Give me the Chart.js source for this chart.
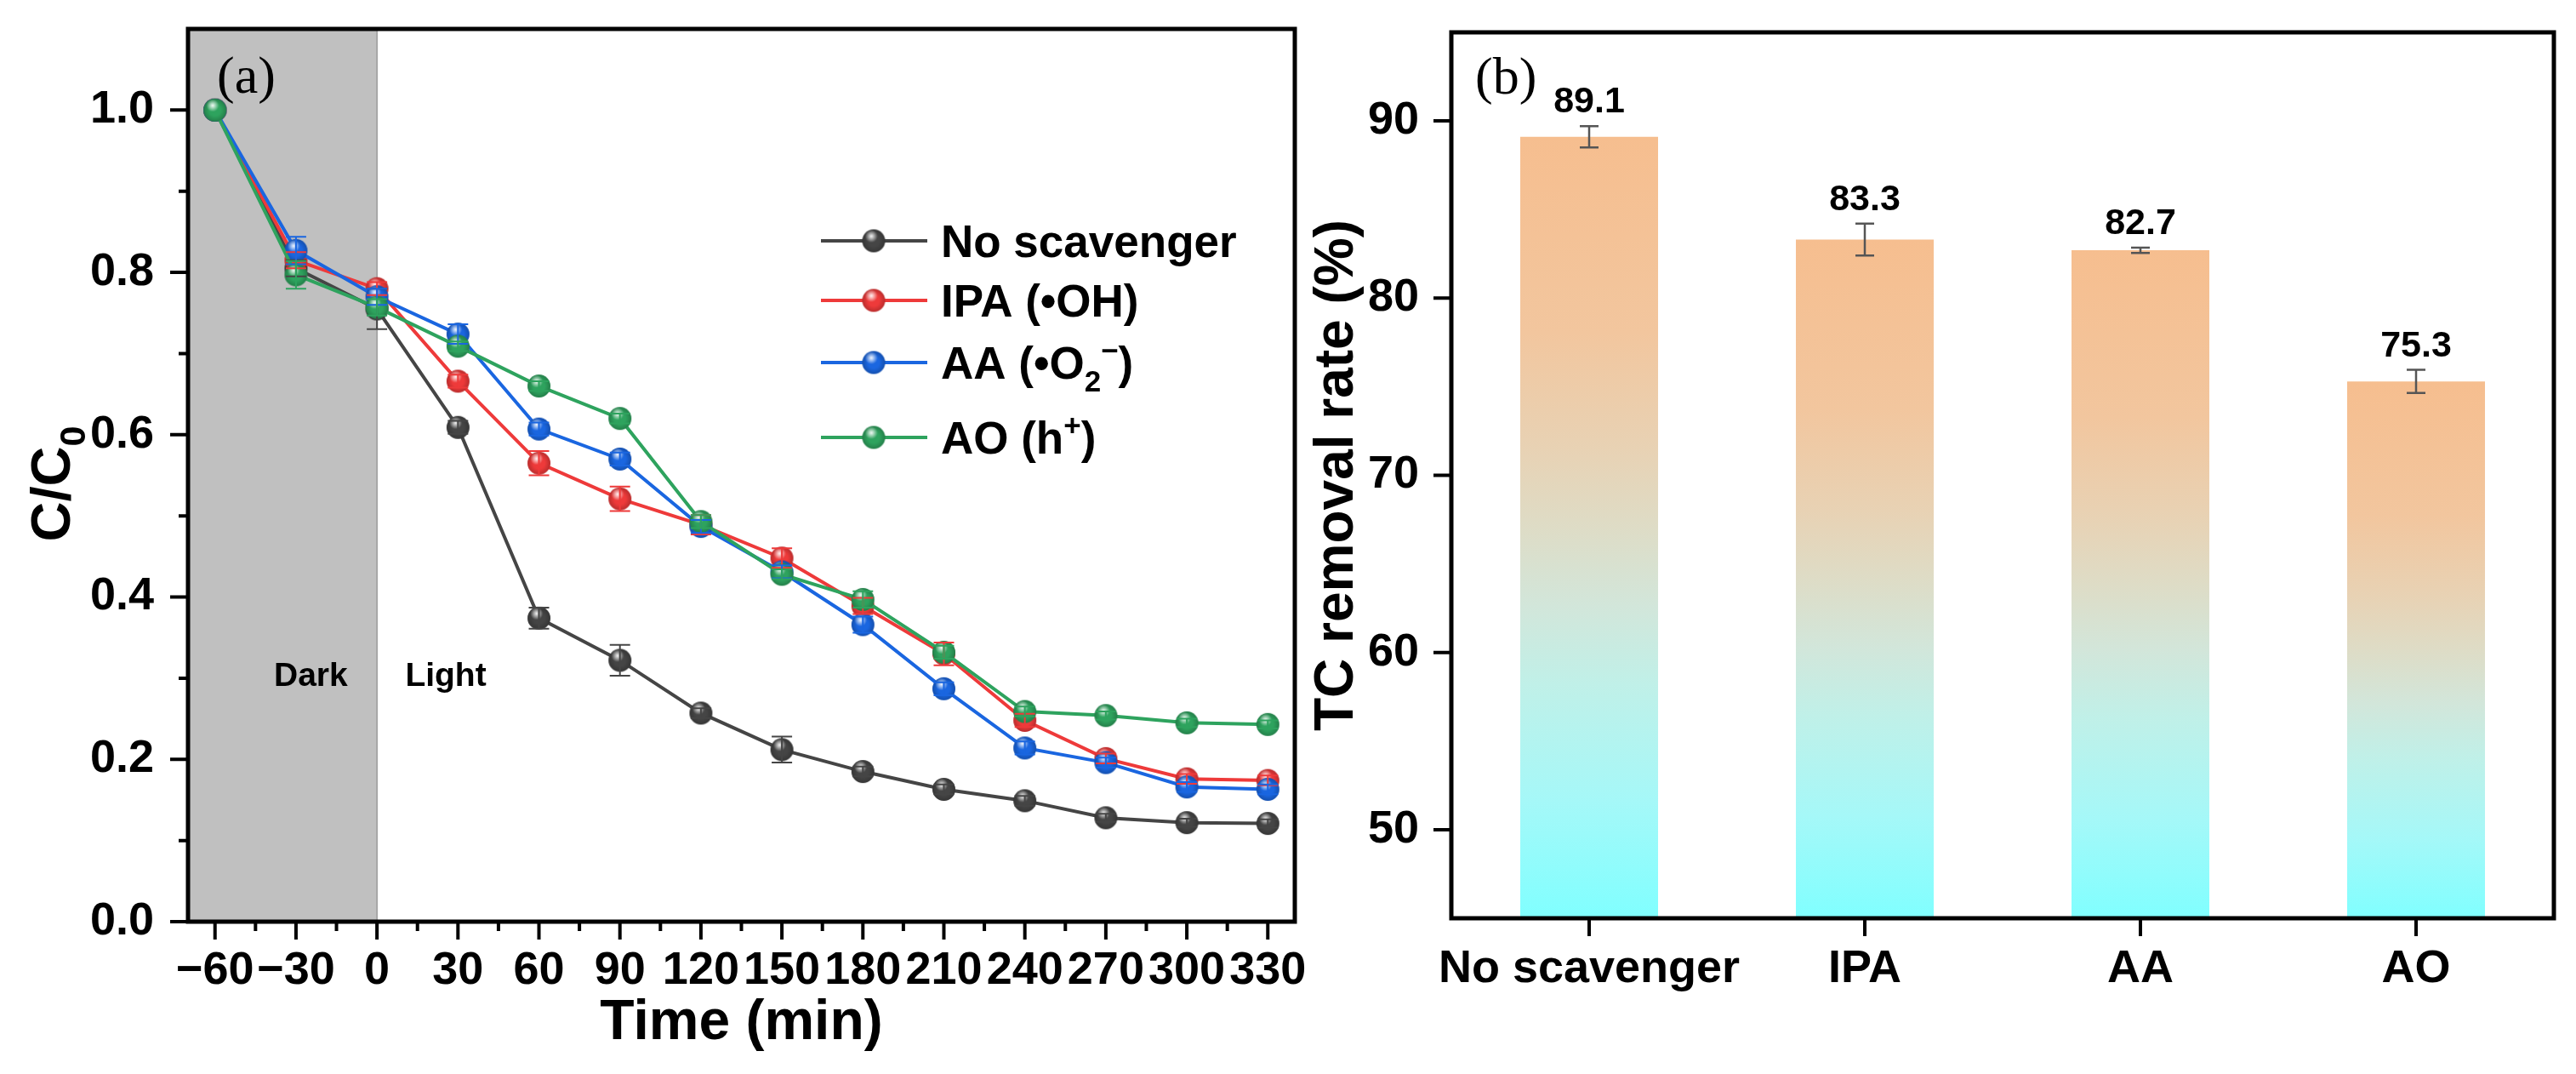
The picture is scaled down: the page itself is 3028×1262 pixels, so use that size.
<!DOCTYPE html>
<html>
<head>
<meta charset="utf-8">
<script src="https://cdn.jsdelivr.net/npm/chart.js@4.4.1/dist/chart.umd.min.js"></script>
<style>
  html, body { margin: 0; padding: 0; background: #fff; }
  body { width: 3028px; height: 1262px; position: relative; overflow: hidden; }
  canvas { position: absolute; top: 0; }
  #kinetics { left: 0; }
  #removal { left: 1540px; }
</style>
</head>
<body>
<canvas id="kinetics" width="1540" height="1262"></canvas>
<canvas id="removal" width="1488" height="1262"></canvas>
<script>
// ---------- panel (a): C/C0 vs time ----------
const timeMin = [-60, -30, 0, 30, 60, 90, 120, 150, 180, 210, 240, 270, 300, 330];
const noScavenger = [1.0, 0.805, 0.755, 0.609, 0.374, 0.322, 0.257, 0.212, 0.185, 0.163, 0.149, 0.128, 0.122, 0.121];
const ipa = [1.0, 0.815, 0.780, 0.666, 0.565, 0.521, 0.489, 0.448, 0.389, 0.330, 0.248, 0.201, 0.176, 0.174];
const aa = [1.0, 0.827, 0.770, 0.724, 0.607, 0.570, 0.487, 0.431, 0.366, 0.287, 0.214, 0.196, 0.166, 0.163];
const ao = [1.0, 0.797, 0.757, 0.709, 0.660, 0.620, 0.493, 0.428, 0.397, 0.332, 0.259, 0.254, 0.245, 0.243];

const noScavengerErr = [0, 0.010, 0.025, 0.008, 0.013, 0.019, 0.006, 0.016, 0.006, 0.006, 0.006, 0.005, 0.005, 0.005];
const ipaErr = [0, 0.010, 0.008, 0.008, 0.015, 0.015, 0.012, 0.012, 0.010, 0.014, 0.008, 0.006, 0.006, 0.006];
const aaErr = [0, 0.017, 0.010, 0.012, 0.008, 0.008, 0.008, 0.008, 0.010, 0.008, 0.008, 0.006, 0.006, 0.006];
const aoErr = [0, 0.017, 0.010, 0.006, 0.006, 0.006, 0.008, 0.006, 0.010, 0.008, 0.006, 0.005, 0.005, 0.005];

// "_x" = subscript, "^x" = superscript
const seriesNames = ['No scavenger', 'IPA (•OH)', 'AA (•O_2^−)', 'AO (h^+)'];

const timeTicks = [-60, -30, 0, 30, 60, 90, 120, 150, 180, 210, 240, 270, 300, 330];
const timeTickLabels = ['−60', '−30', '0', '30', '60', '90', '120', '150', '180', '210', '240', '270', '300', '330'];
const ratioTicks = [0, 0.2, 0.4, 0.6, 0.8, 1.0];
const ratioTickLabels = ['0.0', '0.2', '0.4', '0.6', '0.8', '1.0'];

// ---------- panel (b): removal rate ----------
const scavengers = ['No scavenger', 'IPA', 'AA', 'AO'];
const removalRate = [89.1, 83.3, 82.7, 75.3];
const removalErr = [0.6, 0.9, 0.15, 0.65];
const rateTicks = [50, 60, 70, 80, 90];
const rateTickLabels = ['50', '60', '70', '80', '90'];

// ---------- styles ----------
const SANS = '"Liberation Sans", Arial, sans-serif';
const SERIF = '"Liberation Serif", "Times New Roman", serif';
const seriesColors = ['#454545', '#ee3a3a', '#1a66e0', '#2ea35e'];
const tickFont = { family: SANS, weight: 'bold', size: 54 };

// glossy ball marker like the Origin symbols
function ballMarker(color, r) {
  const c = document.createElement('canvas');
  const s = Math.ceil(r * 2) + 2;
  c.width = c.height = s;
  const g = c.getContext('2d');
  const m = s / 2;
  g.beginPath();
  g.arc(m, m, r, 0, Math.PI * 2);
  g.fillStyle = color;
  g.fill();
  const shade = g.createRadialGradient(m, m, r * 0.5, m, m, r);
  shade.addColorStop(0, 'rgba(0,0,0,0)');
  shade.addColorStop(1, 'rgba(0,0,0,0.22)');
  g.fillStyle = shade;
  g.fill();
  const hi = g.createRadialGradient(m - r * 0.2, m - r * 0.4, 0, m - r * 0.2, m - r * 0.4, r * 0.55);
  hi.addColorStop(0, 'rgba(255,255,255,0.95)');
  hi.addColorStop(1, 'rgba(255,255,255,0)');
  g.fillStyle = hi;
  g.fill();
  return c;
}
const markers = seriesColors.map(c => ballMarker(c, 13.5));

// text with single-character sub/superscripts
function drawRich(ctx, text, x, y, size, align) {
  const parts = [];
  for (let i = 0; i < text.length; i++) {
    const ch = text[i];
    if ((ch === '_' || ch === '^') && i + 1 < text.length) {
      parts.push({ t: text[i + 1], k: ch });
      i++;
    } else if (parts.length && parts[parts.length - 1].k === 'n') {
      parts[parts.length - 1].t += ch;
    } else {
      parts.push({ t: ch, k: 'n' });
    }
  }
  const small = Math.round(size * 0.66);
  let w = 0;
  parts.forEach(p => {
    ctx.font = `bold ${p.k === 'n' ? size : small}px ${SANS}`;
    p.w = ctx.measureText(p.t).width;
    w += p.w;
  });
  let cx = align === 'center' ? x - w / 2 : x;
  ctx.textAlign = 'left';
  ctx.textBaseline = 'alphabetic';
  parts.forEach(p => {
    ctx.font = `bold ${p.k === 'n' ? size : small}px ${SANS}`;
    const dy = p.k === '_' ? size * 0.28 : (p.k === '^' ? -size * 0.4 : 0);
    ctx.fillText(p.t, cx, y + dy);
    cx += p.w;
  });
}

function minorBetween(vals) {
  const out = [];
  for (let i = 0; i < vals.length - 1; i++) out.push((vals[i] + vals[i + 1]) / 2);
  return out;
}

// outward ticks and closed frame
const frameTicks = {
  id: 'frameTicks',
  afterDraw(chart, args, opts) {
    const { ctx, chartArea: a } = chart;
    const xs = chart.scales.x, ys = chart.scales.y;
    ctx.save();
    ctx.strokeStyle = '#000';
    ctx.lineWidth = 4;
    ctx.beginPath();
    xs.ticks.forEach((t, i) => {
      const p = xs.getPixelForTick(i);
      ctx.moveTo(p, a.bottom); ctx.lineTo(p, a.bottom + opts.majorLen);
    });
    (opts.minorX || []).forEach(v => {
      const p = xs.getPixelForValue(v);
      ctx.moveTo(p, a.bottom); ctx.lineTo(p, a.bottom + opts.minorLen);
    });
    ys.ticks.forEach((t, i) => {
      const p = ys.getPixelForTick(i);
      ctx.moveTo(a.left, p); ctx.lineTo(a.left - opts.majorLen, p);
    });
    (opts.minorY || []).forEach(v => {
      const p = ys.getPixelForValue(v);
      ctx.moveTo(a.left, p); ctx.lineTo(a.left - opts.minorLen, p);
    });
    ctx.stroke();
    ctx.lineWidth = 5;
    ctx.strokeRect(a.left, a.top, a.width, a.height);
    ctx.restore();
  }
};

// panel letter
const panelTag = {
  id: 'panelTag',
  afterDraw(chart, args, opts) {
    const { ctx, chartArea: a } = chart;
    ctx.save();
    ctx.fillStyle = '#000';
    ctx.font = `62px ${SERIF}`;
    ctx.textAlign = 'left';
    ctx.textBaseline = 'middle';
    ctx.fillText(opts.text, a.left + opts.dx, a.top + opts.dy);
    ctx.restore();
  }
};

// ---------- chart (a) ----------
const darkLight = {
  id: 'darkLight',
  beforeDatasetsDraw(chart) {
    const { ctx, chartArea: a } = chart;
    const xs = chart.scales.x, ys = chart.scales.y;
    const x0 = xs.getPixelForValue(0);
    ctx.save();
    ctx.fillStyle = '#c0c0c0';
    ctx.fillRect(a.left, a.top, x0 - a.left, a.height);
    ctx.strokeStyle = '#a6a6a6';
    ctx.lineWidth = 2;
    ctx.beginPath();
    ctx.moveTo(x0, a.top); ctx.lineTo(x0, a.bottom);
    ctx.stroke();
    ctx.fillStyle = '#000';
    ctx.font = `bold 39px ${SANS}`;
    ctx.textAlign = 'center';
    ctx.textBaseline = 'alphabetic';
    ctx.fillText('Dark', xs.getPixelForValue(-24.5), ys.getPixelForValue(0.29));
    ctx.fillText('Light', xs.getPixelForValue(25.5), ys.getPixelForValue(0.29));
    ctx.restore();
  }
};

const lineErrors = {
  id: 'lineErrors',
  afterDatasetsDraw(chart, args, opts) {
    const { ctx } = chart;
    const ys = chart.scales.y;
    ctx.save();
    ctx.lineWidth = 2;
    chart.data.datasets.forEach((ds, di) => {
      const meta = chart.getDatasetMeta(di);
      ctx.strokeStyle = seriesColors[di];
      ctx.beginPath();
      meta.data.forEach((pt, j) => {
        const e = opts.errors[di][j];
        if (!e) return;
        const v = ds.data[j].y;
        const yt = ys.getPixelForValue(v + e), yb = ys.getPixelForValue(v - e);
        ctx.moveTo(pt.x, yt); ctx.lineTo(pt.x, yb);
        ctx.moveTo(pt.x - 12, yt); ctx.lineTo(pt.x + 12, yt);
        ctx.moveTo(pt.x - 12, yb); ctx.lineTo(pt.x + 12, yb);
      });
      ctx.stroke();
    });
    ctx.restore();
  }
};

const richLegend = {
  id: 'richLegend',
  afterDraw(chart) {
    const { ctx, chartArea: a } = chart;
    const rows = [249, 319, 392, 480];
    ctx.save();
    seriesNames.forEach((name, i) => {
      const y = a.top + rows[i];
      const x0 = a.left + 744;
      ctx.strokeStyle = seriesColors[i];
      ctx.lineWidth = 4;
      ctx.beginPath();
      ctx.moveTo(x0, y); ctx.lineTo(x0 + 125, y);
      ctx.stroke();
      const mk = markers[i];
      ctx.drawImage(mk, x0 + 62 - mk.width / 2, y - mk.height / 2);
      ctx.fillStyle = '#000';
      drawRich(ctx, name, x0 + 141, y + 19, 53, 'left');
    });
    // y axis title
    ctx.translate(60, (a.top + a.bottom) / 2 + 10);
    ctx.rotate(-Math.PI / 2);
    drawRich(ctx, 'C/C_0', 0, 22, 65, 'center');
    ctx.restore();
  }
};

const seriesValues = [noScavenger, ipa, aa, ao];
const seriesErrors = [noScavengerErr, ipaErr, aaErr, aoErr];

new Chart(document.getElementById('kinetics'), {
  type: 'line',
  data: {
    datasets: seriesValues.map((vals, i) => ({
      label: seriesNames[i],
      data: timeMin.map((t, j) => ({ x: t, y: vals[j] })),
      borderColor: seriesColors[i],
      backgroundColor: seriesColors[i],
      borderWidth: 4,
      tension: 0,
      pointStyle: markers[i],
      pointRadius: 13.5,
      order: 4 - i
    }))
  },
  options: {
    responsive: false,
    devicePixelRatio: 1,
    animation: false,
    layout: { padding: { left: 0, top: 34, right: 18, bottom: 0 } },
    plugins: {
      legend: { display: false },
      tooltip: { enabled: false },
      frameTicks: { majorLen: 21, minorLen: 11, minorX: minorBetween(timeTicks), minorY: minorBetween(ratioTicks) },
      panelTag: { text: '(a)', dx: 34, dy: 59 },
      lineErrors: { errors: seriesErrors }
    },
    scales: {
      x: {
        type: 'linear',
        min: -70,
        max: 340,
        afterBuildTicks: s => { s.ticks = timeTicks.map(v => ({ value: v })); },
        afterFit: s => { s.height = 179; s.paddingLeft = 0; s.paddingRight = 0; },
        grid: { display: false, drawTicks: false },
        border: { display: false },
        ticks: {
          padding: 26, color: '#000', font: tickFont,
          autoSkip: false, maxRotation: 0, minRotation: 0,
          callback: v => timeTickLabels[timeTicks.indexOf(v)]
        },
        title: {
          display: true, text: 'Time (min)', color: '#000',
          font: { family: SANS, weight: 'bold', size: 66 },
          padding: { top: 0, bottom: 20 }
        }
      },
      y: {
        min: 0,
        max: 1.1,
        afterBuildTicks: s => { s.ticks = ratioTicks.map(v => ({ value: v })); },
        afterFit: s => { s.width = 221; s.paddingTop = 0; s.paddingBottom = 0; },
        grid: { display: false, drawTicks: false },
        border: { display: false },
        ticks: {
          padding: 40, color: '#000', font: tickFont, autoSkip: false,
          callback: v => ratioTickLabels[ratioTicks.indexOf(v)]
        }
      }
    }
  },
  plugins: [darkLight, lineErrors, richLegend, frameTicks, panelTag]
});

// ---------- chart (b) ----------
const barStops = [
  [0, 'rgb(128,255,255)'], [0.15, 'rgb(165,248,248)'], [0.3, 'rgb(192,240,232)'],
  [0.4, 'rgb(210,230,218)'], [0.5, 'rgb(222,220,198)'], [0.6, 'rgb(232,210,180)'],
  [0.75, 'rgb(242,198,158)'], [1, 'rgb(246,190,143)']
];

const barLabels = {
  id: 'barLabels',
  afterDatasetsDraw(chart) {
    const { ctx } = chart;
    const ys = chart.scales.y;
    const meta = chart.getDatasetMeta(0);
    ctx.save();
    meta.data.forEach((bar, i) => {
      const v = removalRate[i], e = removalErr[i];
      const yt = ys.getPixelForValue(v + e), yb = ys.getPixelForValue(v - e);
      ctx.strokeStyle = '#555';
      ctx.lineWidth = 2.5;
      ctx.beginPath();
      ctx.moveTo(bar.x, yt); ctx.lineTo(bar.x, yb);
      ctx.moveTo(bar.x - 11, yt); ctx.lineTo(bar.x + 11, yt);
      ctx.moveTo(bar.x - 11, yb); ctx.lineTo(bar.x + 11, yb);
      ctx.stroke();
      ctx.fillStyle = '#000';
      ctx.font = `bold 43px ${SANS}`;
      ctx.textAlign = 'center';
      ctx.textBaseline = 'alphabetic';
      ctx.fillText(v.toFixed(1), bar.x, yt - 16);
    });
    ctx.restore();
  }
};

new Chart(document.getElementById('removal'), {
  type: 'bar',
  data: {
    labels: scavengers,
    datasets: [{
      data: removalRate,
      barPercentage: 0.5,
      categoryPercentage: 1.0,
      borderWidth: 0,
      backgroundColor: c => {
        const chart = c.chart;
        if (!chart.chartArea || c.type !== 'data') return 'rgb(246,190,143)';
        const ys = chart.scales.y;
        const g = chart.ctx.createLinearGradient(0, ys.getPixelForValue(ys.min), 0, ys.getPixelForValue(c.raw));
        barStops.forEach(s => g.addColorStop(s[0], s[1]));
        return g;
      }
    }]
  },
  options: {
    responsive: false,
    devicePixelRatio: 1,
    animation: false,
    layout: { padding: { left: 0, top: 38, right: 26, bottom: 0 } },
    plugins: {
      legend: { display: false },
      tooltip: { enabled: false },
      frameTicks: { majorLen: 21, minorLen: 0 },
      panelTag: { text: '(b)', dx: 28, dy: 56 }
    },
    scales: {
      x: {
        afterFit: s => { s.height = 183; s.paddingLeft = 0; s.paddingRight = 0; },
        grid: { display: false, drawTicks: false },
        border: { display: false },
        ticks: { padding: 28, color: '#000', font: tickFont, autoSkip: false, maxRotation: 0, minRotation: 0 }
      },
      y: {
        min: 45,
        max: 95,
        afterBuildTicks: s => { s.ticks = rateTicks.map(v => ({ value: v })); },
        afterFit: s => { s.width = 166; s.paddingTop = 0; s.paddingBottom = 0; },
        grid: { display: false, drawTicks: false },
        border: { display: false },
        ticks: {
          padding: 38, color: '#000', font: tickFont, autoSkip: false,
          callback: v => rateTickLabels[rateTicks.indexOf(v)]
        },
        title: {
          display: true, text: 'TC removal rate (%)', color: '#000',
          font: { family: SANS, weight: 'bold', size: 64, lineHeight: 1 },
          padding: 0
        }
      }
    }
  },
  plugins: [barLabels, frameTicks, panelTag]
});
</script>
</body>
</html>
